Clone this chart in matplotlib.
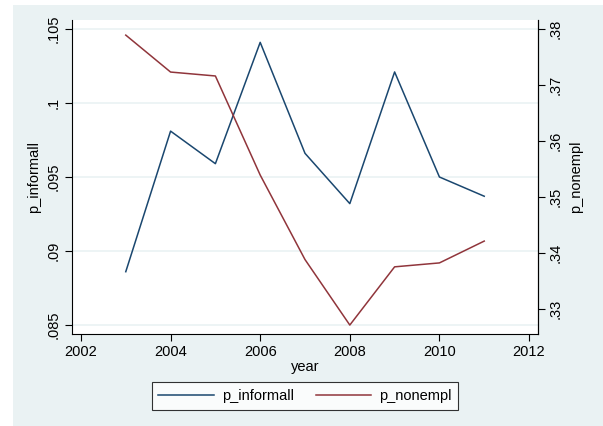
import matplotlib.pyplot as plt
from matplotlib.patches import Rectangle
from matplotlib.lines import Line2D

# data
years = [2003, 2004, 2005, 2006, 2007, 2008, 2009, 2010, 2011]
p_informall = [0.0886, 0.0981, 0.0959, 0.1041, 0.0966, 0.0932, 0.1021, 0.0950, 0.0937]
p_nonempl = [0.3789, 0.3723, 0.3716, 0.3539, 0.3388, 0.3271, 0.3375, 0.3382, 0.3421]

xticks = [2002, 2004, 2006, 2008, 2010, 2012]
left_ticks = [0.085, 0.09, 0.095, 0.1, 0.105]
left_labels = [".085", ".09", ".095", ".1", ".105"]
right_ticks = [0.33, 0.34, 0.35, 0.36, 0.37, 0.38]
right_labels = [".33", ".34", ".35", ".36", ".37", ".38"]

blue = "#1a476f"
red = "#90353b"
bg = "#eaf2f3"

plt.rcParams['font.family'] = ['Liberation Sans', 'DejaVu Sans']
fs = 10.5

fig = plt.figure(figsize=(6.03, 4.26), dpi=100, facecolor="white")
fig.patches.append(Rectangle((13 / 603, 0), 1 - 13 / 603, 1 - 5 / 426,
                             transform=fig.transFigure, facecolor=bg,
                             edgecolor="none", zorder=-10))

ax = fig.add_axes([72 / 603, 1 - 334 / 426, (538 - 72) / 603, (334 - 20) / 426])
ax.set_facecolor("white")
ax2 = ax.twinx()

ax.plot(years, p_informall, color=blue, lw=1.1)
ax2.plot(years, p_nonempl, color=red, lw=1.1)

ax.set_xlim(2001.8, 2012.2)
ax.set_ylim(0.08439, 0.10561)
ax2.set_ylim(0.3255, 0.3816)

ax.set_xticks(xticks)
ax.set_xticklabels([str(x) for x in xticks], fontsize=fs)
ax.set_yticks(left_ticks)
ax.set_yticklabels(left_labels, fontsize=fs, rotation=90, va="center")
ax2.set_yticks(right_ticks)
ax2.set_yticklabels(right_labels, fontsize=fs, rotation=90, va="center")

ax.grid(axis="y", color=bg, lw=1.2)
ax.set_axisbelow(True)

for a in (ax, ax2):
    a.spines["top"].set_visible(False)
    a.tick_params(length=5, width=0.8, pad=3)
ax2.spines["left"].set_visible(False)
ax2.spines["bottom"].set_visible(False)

ax.set_xlabel("year", fontsize=fs, labelpad=1)
ax.set_ylabel("p_informall", fontsize=fs, labelpad=4)
ax2.set_ylabel("p_nonempl", fontsize=fs, labelpad=4)

handles = [Line2D([], [], color=blue, lw=1.1), Line2D([], [], color=red, lw=1.1)]
leg = fig.legend(handles, ["p_informall", "p_nonempl"], loc="center",
                 bbox_to_anchor=(305 / 603, 1 - 396 / 426), ncol=2,
                 fontsize=fs, frameon=True, fancybox=False, handlelength=3.8,
                 handletextpad=0.55, columnspacing=1.5, borderpad=0.45,
                 borderaxespad=0)
leg.get_frame().set_edgecolor("black")
leg.get_frame().set_linewidth(0.8)

fig.savefig("out.png", dpi=100, facecolor=fig.get_facecolor())
